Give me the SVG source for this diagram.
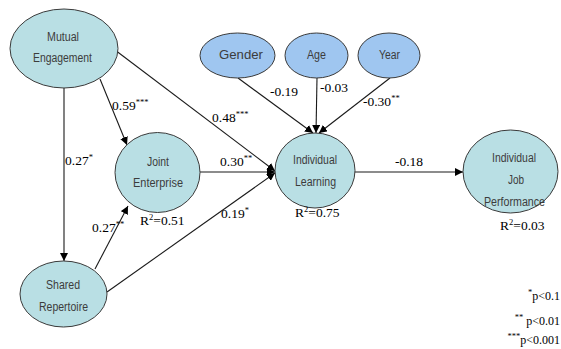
<svg xmlns="http://www.w3.org/2000/svg" width="561" height="349" viewBox="0 0 561 349">
<style>
.n{fill:#b9dfe4;stroke:#3a3a3a;stroke-width:1}
.c{fill:#9fc6f0;stroke:#3a3a3a;stroke-width:1}
.t{font-family:"Liberation Sans",Arial,sans-serif;font-size:12px;fill:#3c3c3c;text-anchor:middle}
.v{font-family:"Liberation Serif","DejaVu Serif","Times New Roman",serif;font-size:13.5px;fill:#000}
.s{font-size:8.5px}
.f{font-family:"Liberation Serif","DejaVu Serif","Times New Roman",serif;font-size:12px;fill:#000;text-anchor:end}
.e{stroke:#1a1a1a;stroke-width:1.1;fill:none;marker-end:url(#a)}
</style>
<defs>
<marker id="a" viewBox="0 0 10 10" refX="10" refY="5" markerWidth="8" markerHeight="8" markerUnits="userSpaceOnUse" orient="auto">
<path d="M0,0 L10,5 L0,10 z" fill="#000"/>
</marker>
</defs>
<g id="connectors">
<line class="e" x1="64" y1="88" x2="64" y2="261"/>
<line class="e" x1="100" y1="79" x2="127" y2="145"/>
<line class="e" x1="115" y1="50" x2="275" y2="171"/>
<line class="e" x1="200" y1="172" x2="275" y2="172"/>
<line class="e" x1="107" y1="292" x2="275" y2="173"/>
<line class="e" x1="95" y1="269" x2="128" y2="206"/>
<line class="e" x1="238" y1="78" x2="313" y2="133"/>
<line class="e" x1="317" y1="78" x2="316" y2="133"/>
<line class="e" x1="390" y1="78" x2="319" y2="133"/>
<line class="e" x1="355" y1="172" x2="463" y2="172"/>
</g>
<g id="mutual-engagement">
<ellipse class="n" cx="64" cy="48.5" rx="54" ry="39.5"/>
<text class="t" x="63" y="41" textLength="32" lengthAdjust="spacingAndGlyphs">Mutual</text>
<text class="t" x="62.5" y="62" textLength="59" lengthAdjust="spacingAndGlyphs">Engagement</text>
</g>
<g id="joint-enterprise">
<ellipse class="n" cx="157.5" cy="172.5" rx="42.5" ry="40"/>
<text class="t" x="158" y="166" textLength="22" lengthAdjust="spacingAndGlyphs">Joint</text>
<text class="t" x="158" y="187" textLength="50" lengthAdjust="spacingAndGlyphs">Enterprise</text>
</g>
<g id="shared-repertoire">
<ellipse class="n" cx="63.5" cy="294" rx="43.5" ry="33"/>
<text class="t" x="63" y="289" textLength="34" lengthAdjust="spacingAndGlyphs">Shared</text>
<text class="t" x="63.5" y="311" textLength="49" lengthAdjust="spacingAndGlyphs">Repertoire</text>
</g>
<g id="gender">
<ellipse class="c" cx="237.5" cy="55.5" rx="37.5" ry="22.5"/>
<text class="t" x="241" y="59" textLength="44" lengthAdjust="spacingAndGlyphs">Gender</text>
</g>
<g id="age">
<ellipse class="c" cx="316.5" cy="55.5" rx="31.5" ry="22.5"/>
<text class="t" x="316.5" y="59" textLength="19" lengthAdjust="spacingAndGlyphs">Age</text>
</g>
<g id="year">
<ellipse class="c" cx="389" cy="55.5" rx="31" ry="22.5"/>
<text class="t" x="389.5" y="59" textLength="21" lengthAdjust="spacingAndGlyphs">Year</text>
</g>
<g id="individual-learning">
<ellipse class="n" cx="315" cy="170.5" rx="40" ry="37.5"/>
<text class="t" x="315" y="164" textLength="44" lengthAdjust="spacingAndGlyphs">Individual</text>
<text class="t" x="315.5" y="186" textLength="41" lengthAdjust="spacingAndGlyphs">Learning</text>
</g>
<g id="individual-job-performance">
<ellipse class="n" cx="510.5" cy="171.5" rx="47.5" ry="41.5"/>
<text class="t" x="514" y="162" textLength="44" lengthAdjust="spacingAndGlyphs">Individual</text>
<text class="t" x="516" y="184" textLength="16" lengthAdjust="spacingAndGlyphs">Job</text>
<text class="t" x="514.5" y="206" textLength="61" lengthAdjust="spacingAndGlyphs">Performance</text>
</g>
<g id="labels">
<text class="v" x="65" y="165">0.27<tspan class="s" dy="-5">*</tspan></text>
<text class="v" x="112" y="110">0.59<tspan class="s" dy="-5">***</tspan></text>
<text class="v" x="212" y="122">0.48<tspan class="s" dy="-5">***</tspan></text>
<text class="v" x="220" y="166">0.30<tspan class="s" dy="-5">**</tspan></text>
<text class="v" x="221" y="218">0.19<tspan class="s" dy="-5">*</tspan></text>
<text class="v" x="92" y="232">0.27<tspan class="s" dy="-5">**</tspan></text>
<text class="v" x="270" y="96">-0.19</text>
<text class="v" x="320" y="92">-0.03</text>
<text class="v" x="363" y="106">-0.30<tspan class="s" dy="-5">**</tspan></text>
<text class="v" x="395" y="166">-0.18</text>
<text class="v" x="140" y="225">R<tspan class="s" dy="-5">2</tspan><tspan dy="5">=0.51</tspan></text>
<text class="v" x="295" y="217">R<tspan class="s" dy="-5">2</tspan><tspan dy="5">=0.75</tspan></text>
<text class="v" x="500" y="230">R<tspan class="s" dy="-5">2</tspan><tspan dy="5">=0.03</tspan></text>
</g>
<g id="legend">
<text class="f" x="560" y="300"><tspan class="s" dy="-5">*</tspan><tspan dy="5">p&lt;0.1</tspan></text>
<text class="f" x="560" y="325"><tspan class="s" dy="-5">**</tspan><tspan dy="5"> p&lt;0.01</tspan></text>
<text class="f" x="560" y="344"><tspan class="s" dy="-5">***</tspan><tspan dy="5">p&lt;0.001</tspan></text>
</g>
</svg>
